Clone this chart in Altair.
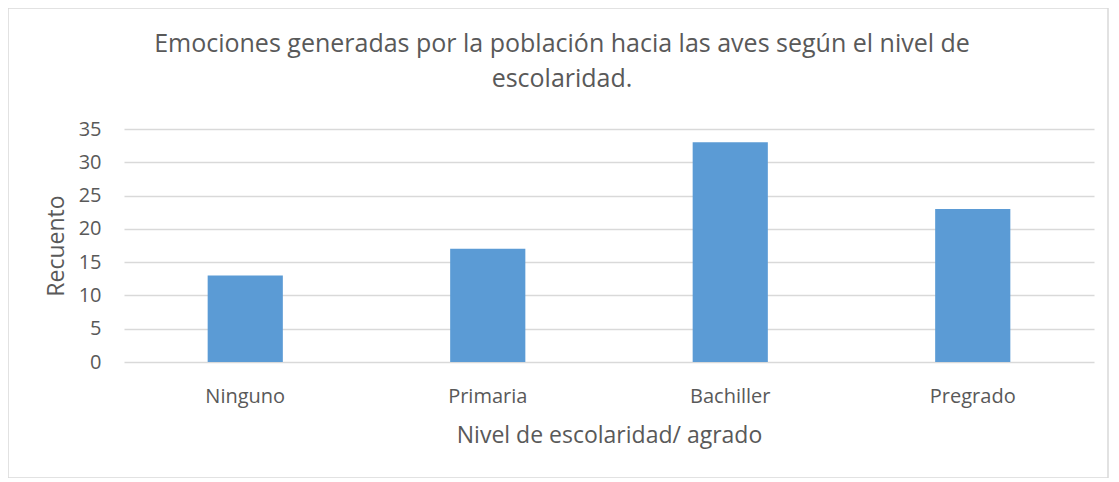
import altair as alt
import pandas as pd

categorias = ["Ninguno", "Primaria", "Bachiller", "Pregrado"]
recuento = [13, 17, 33, 23]
titulo = ["Emociones generadas por la población hacia las aves según el nivel de",
          "escolaridad."]

df = pd.DataFrame({"nivel": categorias, "recuento": recuento})

FONT = "Open Sans"
GREY = "#595959"

W, H = 970, 233

border = alt.Chart(pd.DataFrame({"a": [0]})).mark_rect(
    fillOpacity=0, stroke="#D9D9D9", strokeWidth=1.5, clip=False
).encode(
    x=alt.value(-116), x2=alt.value(984), y=alt.value(-121), y2=alt.value(349)
)

t1 = alt.Chart(pd.DataFrame({"t": [titulo[0]]})).mark_text(
    fontSize=25, font=FONT, color=GREY, align="center", baseline="alphabetic"
).encode(text="t:N", x=alt.value(438), y=alt.value(-77))
t2 = alt.Chart(pd.DataFrame({"t": [titulo[1]]})).mark_text(
    fontSize=25, font=FONT, color=GREY, align="center", baseline="alphabetic"
).encode(text="t:N", x=alt.value(438), y=alt.value(-42))

bars = alt.Chart(df).mark_bar(color="#5B9BD5").encode(
    x=alt.X("nivel:N", sort=categorias,
            scale=alt.Scale(paddingInner=0.69, paddingOuter=0.345),
            axis=alt.Axis(title="Nivel de escolaridad/ agrado", labelAngle=0,
                          labelFontSize=20, labelColor=GREY, labelPadding=24,
                          titleFontSize=23, titleColor=GREY, titleFontWeight="normal",
                          titleBaseline="alphabetic", titleY=80,
                          ticks=False, domain=False, grid=False)),
    y=alt.Y("recuento:Q", scale=alt.Scale(domain=[0, 35]),
            axis=alt.Axis(title="Recuento", values=[0, 5, 10, 15, 20, 25, 30, 35],
                          labelFontSize=20, labelColor=GREY, labelPadding=23,
                          titleFontSize=23, titleColor=GREY, titleFontWeight="normal",
                          titleBaseline="alphabetic", titleX=-61, titleY=H / 2,
                          ticks=False, domain=False, gridColor="#D9D9D9", gridWidth=1.3)),
)

chart = alt.layer(border, bars, t1, t2).properties(
    width=W, height=H,
    padding={"left": 116, "top": 121, "right": 17, "bottom": 116},
    autosize=alt.AutoSizeParams(type="none"),
).configure(font=FONT).configure_view(stroke=None)

chart.save("out.html", embed_options={"renderer": "svg", "actions": False})
